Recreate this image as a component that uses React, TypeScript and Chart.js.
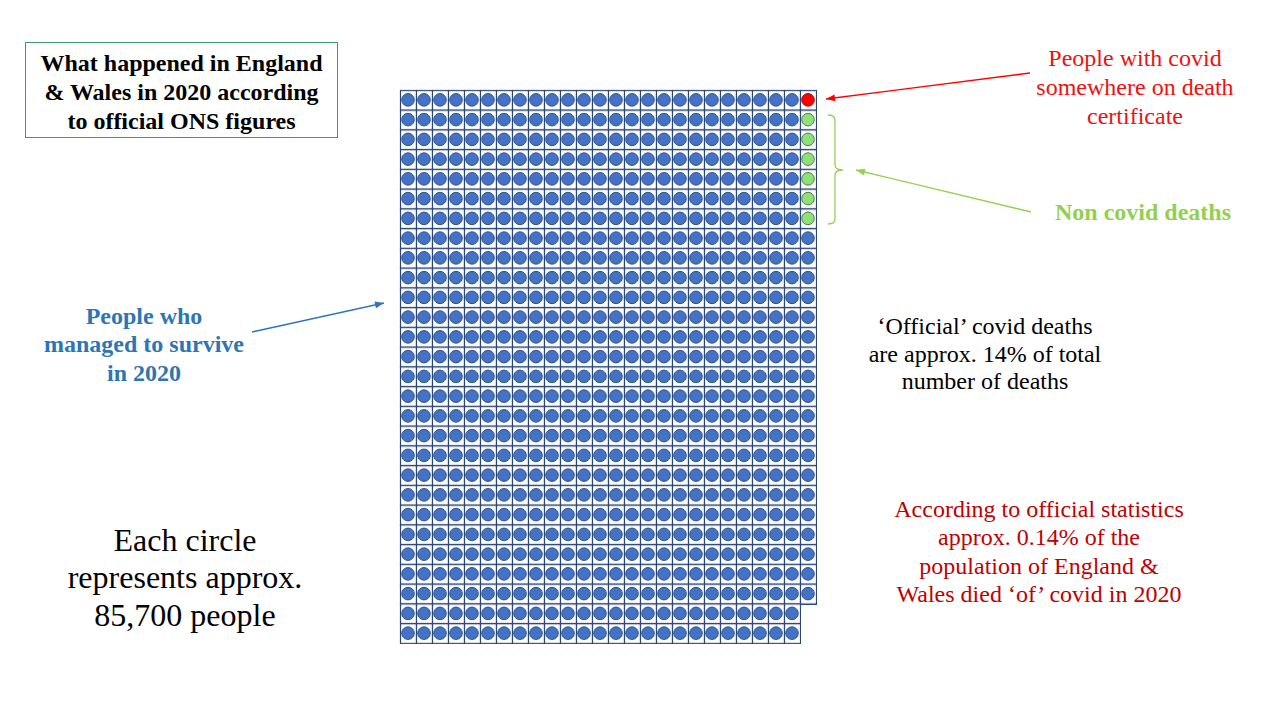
import React, { useEffect, useRef } from "react";
import { Chart, registerables } from "chart.js";

Chart.register(...registerables);

// ---- data ----
// number of circles in each row of the waffle (top to bottom)
const rowLengths = [
  26, 26, 26, 26, 26, 26, 26, 26, 26, 26, 26, 26, 26, 26,
  26, 26, 26, 26, 26, 26, 26, 26, 26, 26, 26, 26, 25, 25,
];
const groupLabels = [
  "People who managed to survive in 2020",
  "People with covid somewhere on death certificate",
  "Non covid deaths",
];
const groupCounts = [719, 1, 6];
const peoplePerCircle = 85700;

// ---- styles ----
const groupFill = ["#4472C4", "#FF0000", "#8FE07A"];
const groupEdge = ["#2F528F", "#B00000", "#4F7F45"];
const cellEdge = "#2B4675";

type P = { x: number; y: number };

function buildPoints() {
  const cells: P[] = [];
  rowLengths.forEach((len, ri) => {
    for (let c = 1; c <= len; c++) cells.push({ x: c, y: ri + 1 });
  });
  const deathCol = Math.max(...rowLengths);
  const groups: P[][] = [[], [], []];
  for (const cell of cells) {
    if (cell.x === deathCol && groups[1].length < groupCounts[1]) groups[1].push(cell);
    else if (cell.x === deathCol && groups[2].length < groupCounts[2]) groups[2].push(cell);
    else groups[0].push(cell);
  }
  return { cells, groups };
}

function makeCellImage(): HTMLCanvasElement {
  const c = document.createElement("canvas");
  c.width = 18;
  c.height = 22;
  const g = c.getContext("2d")!;
  g.fillStyle = "#ffffff";
  g.fillRect(1.5, 1.625, 16, 19.75);
  g.strokeStyle = cellEdge;
  g.lineWidth = 1.2;
  g.strokeRect(1.5, 1.625, 16, 19.75);
  return c;
}

function WaffleChart() {
  const ref = useRef<HTMLCanvasElement | null>(null);
  useEffect(() => {
    if (!ref.current) return;
    const { cells, groups } = buildPoints();
    const cellImg = makeCellImage();
    const datasets: any[] = groups.map((pts, i) => ({
      label: groupLabels[i],
      data: pts,
      pointStyle: "circle",
      pointRadius: 6.3,
      pointBackgroundColor: groupFill[i],
      pointBorderColor: groupEdge[i],
      pointBorderWidth: 1,
      showLine: false,
      clip: false,
      order: 0,
    }));
    datasets.push({
      label: "cells",
      data: cells,
      pointStyle: cellImg,
      pointRadius: 9,
      showLine: false,
      clip: false,
      order: 1,
    });
    const chart = new Chart(ref.current, {
      type: "scatter",
      data: { datasets },
      options: {
        animation: false,
        responsive: false,
        devicePixelRatio: 1,
        layout: { padding: { left: 10, right: 10, top: 10, bottom: 12 } },
        plugins: { legend: { display: false }, tooltip: { enabled: false } },
        events: [],
        scales: {
          x: { type: "linear", min: 0.5, max: 26.5, display: false },
          y: { type: "linear", min: 0.5, max: 28.5, reverse: true, display: false },
        },
      },
    });
    return () => chart.destroy();
  }, []);
  return (
    <canvas
      ref={ref}
      width={436}
      height={575}
      style={{ position: "absolute", left: 390, top: 80, width: 436, height: 575 }}
    />
  );
}

function Label(props: {
  cx: number;
  top: number;
  lh: number;
  size: number;
  color: string;
  bold?: boolean;
  lines: string[];
}) {
  return (
    <div
      style={{
        position: "absolute",
        left: props.cx - 250,
        width: 500,
        top: props.top,
        textAlign: "center",
        fontSize: props.size,
        lineHeight: props.lh + "px",
        color: props.color,
        fontWeight: props.bold ? "bold" : "normal",
        whiteSpace: "nowrap",
      }}
    >
      {props.lines.map((l, i) => (
        <div key={i}>{l}</div>
      ))}
    </div>
  );
}

function arrowHead(x1: number, y1: number, x2: number, y2: number, len = 9, half = 3.5) {
  const a = Math.atan2(y2 - y1, x2 - x1);
  const bx = x2 - len * Math.cos(a);
  const by = y2 - len * Math.sin(a);
  const px = -Math.sin(a) * half;
  const py = Math.cos(a) * half;
  return `${x2},${y2} ${bx + px},${by + py} ${bx - px},${by - py}`;
}

export default function App() {
  const arrows = [
    { x1: 1030, y1: 73, x2: 826, y2: 99, c: "#FF0000" },
    { x1: 1031, y1: 212, x2: 856, y2: 170, c: "#92D050" },
    { x1: 252, y1: 332, x2: 384, y2: 303, c: "#2E75B6" },
  ];
  return (
    <div
      style={{
        position: "fixed",
        left: 0,
        top: 0,
        width: 1280,
        height: 720,
        background: "#ffffff",
        overflow: "hidden",
        fontFamily: '"Liberation Serif", "Times New Roman", serif',
      }}
    >
      <div
        style={{
          position: "absolute",
          left: 25,
          top: 42,
          width: 313,
          height: 96,
          border: "1.5px solid #3A9A68",
          boxSizing: "border-box",
        }}
      />
      <Label
        cx={181.5}
        top={48.5}
        lh={29}
        size={24}
        color="#000000"
        bold
        lines={["What happened in England", "& Wales in 2020 according", "to official ONS figures"]}
      />
      <Label
        cx={1135}
        top={43.5}
        lh={29}
        size={24}
        color="#EE1111"
        lines={["People with covid", "somewhere on death", "certificate"]}
      />
      <Label cx={1143} top={198} lh={29} size={24} color="#92D050" bold lines={["Non covid deaths"]} />
      <Label
        cx={144}
        top={301.5}
        lh={28.5}
        size={24}
        color="#2E75B6"
        bold
        lines={["People who", "managed to survive", "in 2020"]}
      />
      <Label
        cx={985}
        top={313}
        lh={27.7}
        size={24}
        color="#000000"
        lines={["\u2018Official\u2019 covid deaths", "are approx. 14% of total", "number of deaths"]}
      />
      <Label
        cx={1039}
        top={494.7}
        lh={28.5}
        size={24}
        color="#C00000"
        lines={[
          "According to official statistics",
          "approx. 0.14% of the",
          "population of England &",
          "Wales died \u2018of\u2019 covid in 2020",
        ]}
      />
      <Label
        cx={185}
        top={521.5}
        lh={37.5}
        size={32}
        color="#000000"
        lines={["Each circle", "represents approx.", peoplePerCircle.toLocaleString("en-GB") + " people"]}
      />
      <WaffleChart />
      <svg
        width={1280}
        height={720}
        style={{ position: "absolute", left: 0, top: 0, pointerEvents: "none" }}
      >
        {arrows.map((a, i) => (
          <g key={i}>
            <line x1={a.x1} y1={a.y1} x2={a.x2} y2={a.y2} stroke={a.c} strokeWidth={1.3} />
            <polygon points={arrowHead(a.x1, a.y1, a.x2, a.y2)} fill={a.c} />
          </g>
        ))}
        <path
          d="M828,115 Q835,115 835,120 L835,165 Q835,170 843,170 Q835,170 835,175 L835,219 Q835,224 828,224"
          fill="none"
          stroke="#92D050"
          strokeWidth={1.3}
        />
      </svg>
    </div>
  );
}
